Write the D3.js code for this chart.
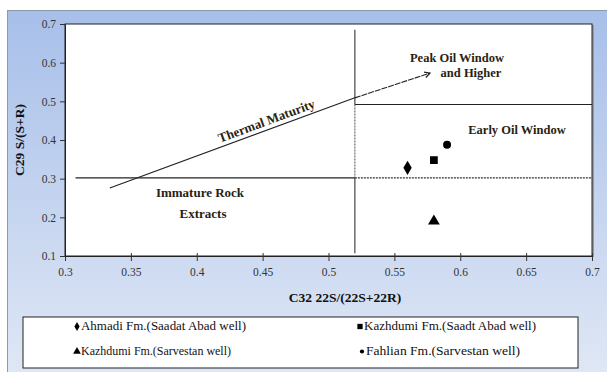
<!DOCTYPE html>
<html><head><meta charset="utf-8">
<script src="https://cdn.jsdelivr.net/npm/d3@7"></script>
<style>body{margin:0;background:#fff}
#wrap{position:relative;width:607px;height:374px}
#bgd{position:absolute;left:7px;top:10px;width:600px;height:362px;background:linear-gradient(#a7bfe9,#dfe7f5);border-left:1.5px solid #8f9aa8;border-top:1.5px solid #8f9aa8;box-sizing:border-box}
svg{position:absolute;left:0;top:0;display:block}</style>
</head><body><div id="wrap"><div id="bgd"></div><svg id="c" width="607" height="374"></svg></div>
<script>
const seriesNames = ["Ahmadi Fm.(Saadat Abad well)", "Kazhdumi Fm.(Saadt Abad well)", "Kazhdumi Fm.(Sarvestan well)", "Fahlian Fm.(Sarvestan well)"];
const seriesX = [0.56, 0.58, 0.58, 0.59];
const seriesY = [0.328, 0.348, 0.19, 0.388];
const seriesSymbols = ["diamond", "square", "triangle", "circle"];
const xTicks = [0.3, 0.35, 0.4, 0.45, 0.5, 0.55, 0.6, 0.65, 0.7];
const yTicks = [0.1, 0.2, 0.3, 0.4, 0.5, 0.6, 0.7];
const boundaryX = 0.52, upperY = 0.492, lowerY = 0.302;
const arrowPts = [[0.334, 0.276], [0.52, 0.509], [0.577, 0.573]];

const SERIF = "Liberation Serif";
const SANS = "Liberation Sans Narrow";
const svg = d3.select("#c");

const L=65,R=592,T=24,B=256;
const x = d3.scaleLinear().domain([0.3,0.7]).range([L,R]);
const y = d3.scaleLinear().domain([0.1,0.7]).range([B,T]);

svg.append("rect").attr("x",L+2).attr("y",T+1).attr("width",R-L).attr("height",B-T).attr("fill","#999");
svg.append("rect").attr("x",L).attr("y",T).attr("width",R-L).attr("height",B-T).attr("fill","#fff").attr("stroke","#222").attr("stroke-width",1);

const xa = svg.append("g").attr("transform",`translate(0,${B})`)
  .call(d3.axisBottom(x).tickValues(xTicks).tickSize(5).tickPadding(7).tickFormat(d=>String(+d.toFixed(2))));
const ya = svg.append("g").attr("transform",`translate(${L},0)`)
  .call(d3.axisLeft(y).tickValues(yTicks).tickSize(5).tickPadding(4).tickFormat(d=>d.toFixed(1)));
[xa,ya].forEach(a=>{a.attr("font-family",SANS).attr("font-size",11.5);
  a.select(".domain").attr("stroke","#222");a.selectAll(".tick line").attr("stroke","#333");
  a.selectAll("text").attr("fill","#333");});
xa.selectAll(".tick line").attr("y1",-3);

// boundary lines
svg.append("line").attr("x1",x(boundaryX)).attr("x2",x(boundaryX)).attr("y1",y(0.685)).attr("y2",y(upperY)).attr("stroke","#555").attr("stroke-width",1.3);
svg.append("line").attr("x1",x(boundaryX)).attr("x2",x(boundaryX)).attr("y1",y(upperY)).attr("y2",y(lowerY)).attr("stroke","#777").attr("stroke-width",1.3).attr("stroke-dasharray","2,1");
svg.append("line").attr("x1",x(boundaryX)).attr("x2",x(boundaryX)).attr("y1",y(lowerY)).attr("y2",y(0.107)).attr("stroke","#555").attr("stroke-width",1.3);
svg.append("line").attr("x1",x(boundaryX)).attr("x2",x(0.7)).attr("y1",y(upperY)).attr("y2",y(upperY)).attr("stroke","#222").attr("stroke-width",1.1);
svg.append("line").attr("x1",x(0.308)).attr("x2",x(boundaryX)).attr("y1",y(lowerY)).attr("y2",y(lowerY)).attr("stroke","#222").attr("stroke-width",1.1);
svg.append("line").attr("x1",x(boundaryX)).attr("x2",x(0.7)).attr("y1",y(lowerY)).attr("y2",y(lowerY)).attr("stroke","#333").attr("stroke-width",1.1).attr("stroke-dasharray","2,1");
// arrow
svg.append("line").attr("x1",x(arrowPts[0][0])).attr("y1",y(arrowPts[0][1])).attr("x2",x(arrowPts[1][0])).attr("y2",y(arrowPts[1][1])).attr("stroke","#222").attr("stroke-width",1.1);
svg.append("line").attr("x1",x(arrowPts[1][0])).attr("y1",y(arrowPts[1][1])).attr("x2",x(arrowPts[2][0])).attr("y2",y(arrowPts[2][1])).attr("stroke","#222").attr("stroke-width",1.1).attr("stroke-dasharray","6,1");
{
  const ex=x(arrowPts[2][0]), ey=y(arrowPts[2][1]);
  const a=Math.atan2(ey-y(arrowPts[1][1]), ex-x(arrowPts[1][0]));
  const hl=6, sp=0.5;
  const p=d3.path(); p.moveTo(ex-hl*Math.cos(a-sp), ey-hl*Math.sin(a-sp)); p.lineTo(ex,ey); p.lineTo(ex-hl*Math.cos(a+sp), ey-hl*Math.sin(a+sp));
  svg.append("path").attr("d",p.toString()).attr("fill","none").attr("stroke","#222").attr("stroke-width",1.3);
}

const ang = Math.atan2(y(arrowPts[1][1])-y(arrowPts[0][1]), x(arrowPts[1][0])-x(arrowPts[0][0]))*180/Math.PI;
function lbl(t,px,py,size,rot){const e=svg.append("text").attr("x",px).attr("y",py).attr("text-anchor","middle")
  .attr("font-family",SERIF).attr("font-weight","bold").attr("font-size",size).attr("fill","#2a1e12").text(t);
  if(rot) e.attr("transform",`rotate(${rot},${px},${py})`); return e;}
lbl("Thermal  Maturity",268,125,13,ang);
lbl("Immature  Rock",200,197,13);
lbl("Extracts",203,218,13);
lbl("Peak Oil Window",457,62,12.5);
lbl("and Higher",471,77,12.5);
lbl("Early Oil Window",517,134,12.5);

// axis titles
svg.append("text").attr("x",345).attr("y",302).attr("text-anchor","middle").attr("font-family",SERIF).attr("font-weight","bold").attr("font-size",13.5).attr("fill","#111").text("C32 22S/(22S+22R)");
svg.append("text").attr("transform","translate(24,140) rotate(-90)").attr("text-anchor","middle").attr("font-family",SERIF).attr("font-weight","bold").attr("font-size",13.5).attr("fill","#111").text("C29 S/(S+R)");

const symType = {diamond:d3.symbolDiamond, square:d3.symbolSquare, triangle:d3.symbolTriangle, circle:d3.symbolCircle};
const symSize = {diamond:60, square:60, triangle:60, circle:50};
seriesX.forEach((v,i)=>{
  svg.append("path").attr("d",d3.symbol().type(symType[seriesSymbols[i]]).size(symSize[seriesSymbols[i]])())
    .attr("transform",`translate(${x(v)},${y(seriesY[i])})`).attr("fill","#000");
});

// legend
svg.append("rect").attr("x",23).attr("y",317).attr("width",555).attr("height",51).attr("fill","#fff").attr("stroke","#222").attr("stroke-width",1);
const legPos = [[77,330],[360,330],[77,355],[362,355]];
const legSym = {diamond:24, square:28, triangle:26, circle:14};
const legLen = [165,172,150,154];
seriesNames.forEach((n,i)=>{
  const [px,py]=legPos[i];
  svg.append("path").attr("d",d3.symbol().type(symType[seriesSymbols[i]]).size(legSym[seriesSymbols[i]])())
    .attr("transform",`translate(${px},${py-3.5})`).attr("fill","#000");
  svg.append("text").attr("x",px+4).attr("y",py).attr("font-family",SERIF).attr("font-size",12).attr("fill","#111")
    .attr("textLength", legLen[i]).attr("lengthAdjust","spacingAndGlyphs").text(n);
});
</script></body></html>
